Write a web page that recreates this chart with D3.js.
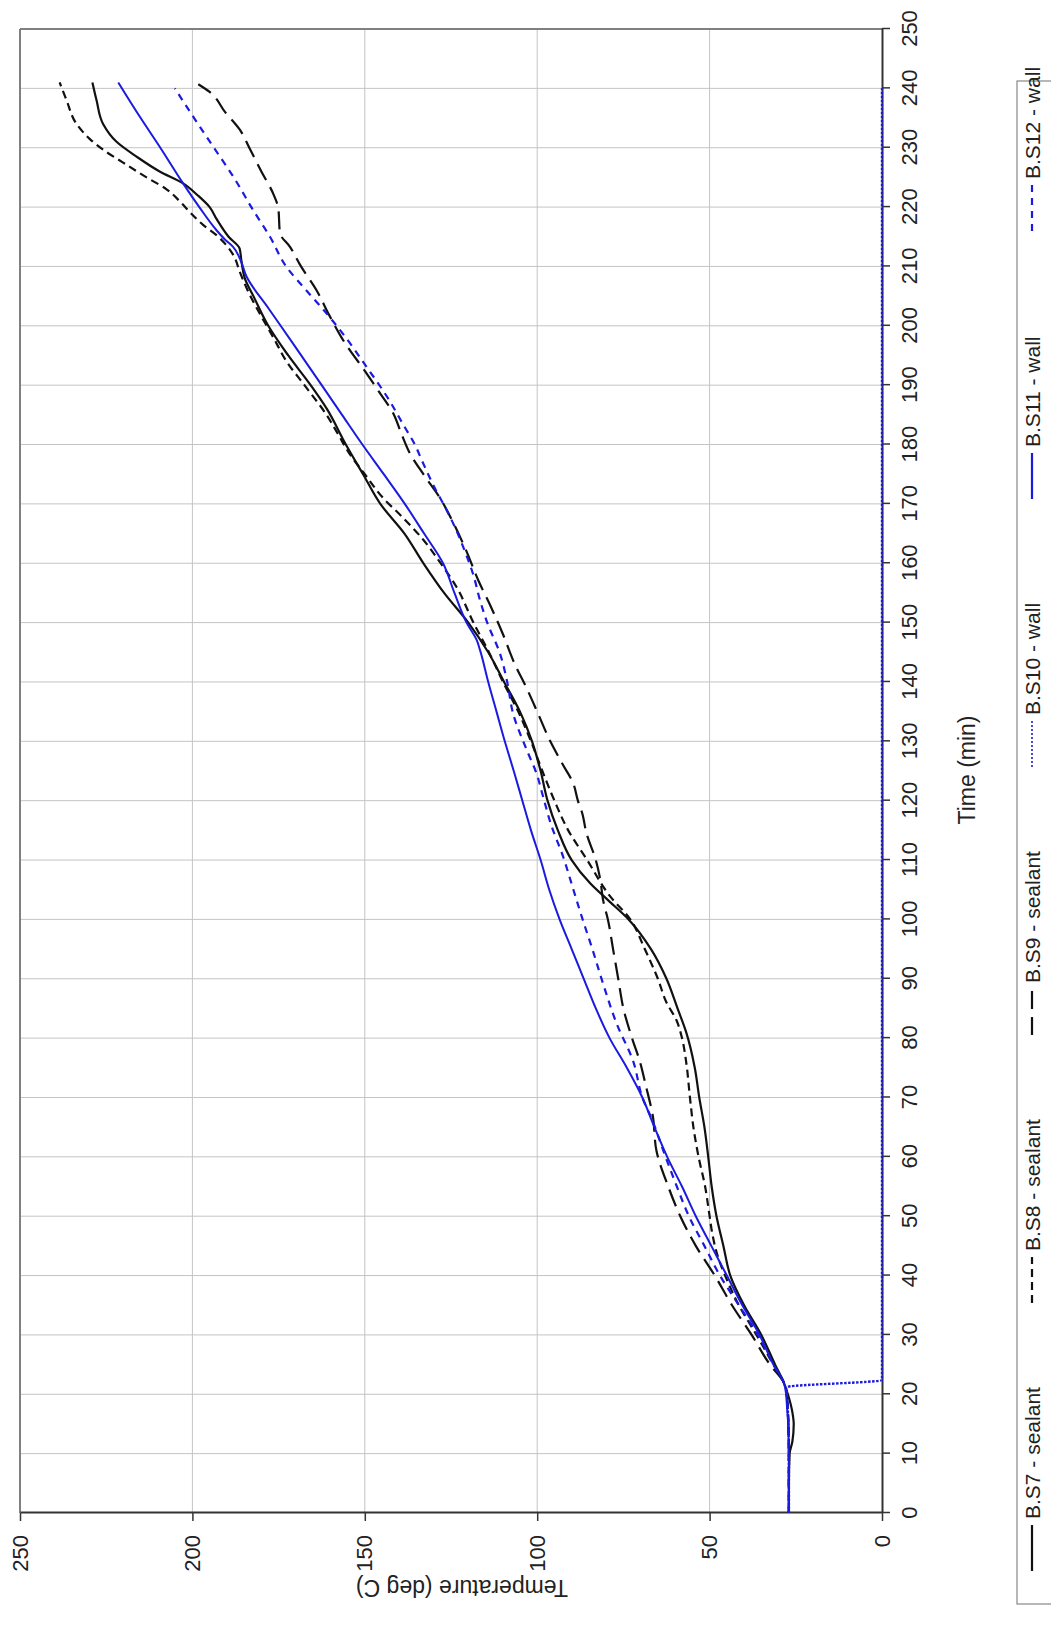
<!DOCTYPE html>
<html><head><meta charset="utf-8">
<script src="https://cdn.jsdelivr.net/npm/d3@7"></script>
<style>html,body{margin:0;padding:0;background:#fff;} svg{display:block;font-family:"Liberation Sans",Arial,sans-serif;}</style>
</head><body><svg id="c" width="1051" height="1636"></svg>
<script>
// ---------- data ----------
const timeTicks = d3.range(0, 251, 10);
const tempTicks = [0, 50, 100, 150, 200, 250];
const seriesNames = ["B.S7 - sealant", "B.S8 - sealant", "B.S9 - sealant", "B.S10 - wall", "B.S11 - wall", "B.S12 - wall"];

const s7Time = [0, 5, 10, 12, 15, 17, 20, 22, 25, 30, 35, 40, 45, 50, 55, 60, 65, 70, 75, 81, 85, 90, 95, 100, 103, 106, 110, 115, 120, 125, 130, 135, 140, 145, 150, 155, 160, 165, 170, 175, 180, 186, 190, 195, 200, 205, 208, 211, 213, 215, 218, 220, 222, 224, 226, 228.5, 231, 234, 238, 241];
const s7Temp = [27, 27, 26.8, 26, 25.6, 26, 27.3, 28.5, 31, 35, 40, 44, 46, 48, 49.4, 50.4, 51.5, 53, 54.3, 56.8, 59.3, 62.5, 67, 73.5, 79, 84.5, 90, 94, 97, 99, 101.5, 105, 109.6, 114.2, 120, 127, 133, 138.5, 145.5, 150.5, 155.5, 161, 165.7, 172.2, 178, 182.3, 184.8, 185.8, 186.3, 189.5, 193, 195, 198.5, 202.7, 209.5, 216.2, 222, 225.9, 227.8, 229];

const s8Time = [0, 10, 20, 22, 25, 30, 35, 40, 43, 47, 50, 55, 60, 65, 70, 76, 80, 83, 86, 90, 95, 100, 104, 110, 115, 120, 125, 130, 135, 140, 145, 150, 156, 160, 164, 168, 171, 175, 178.5, 182, 185, 190, 194, 198, 202, 206, 209, 212, 215, 217, 219, 221, 223, 225, 227.5, 229.5, 231.5, 234, 238, 241];
const s8Temp = [27, 27, 27.6, 28.5, 31.5, 36.4, 41.5, 45.5, 47.5, 49.2, 50, 51.3, 53.2, 54.7, 55.7, 56.8, 58, 59.6, 62.5, 65, 68.8, 73, 79, 85.5, 91, 95, 98.5, 101.8, 105.5, 109.9, 114, 118.5, 123.4, 128, 133.1, 139.5, 144.7, 150, 154.5, 158, 161.1, 167.5, 172.7, 176.5, 180.4, 184, 186.2, 188.2, 192.5, 196.9, 200.5, 203.7, 207.5, 213.3, 220.1, 225.5, 229.8, 233.6, 236.5, 238.5];

const s9Time = [0, 10, 20, 22, 25, 30, 35, 40, 45, 50, 55, 61, 67, 72, 76, 80, 85, 90, 95, 100, 103, 107, 110, 114.5, 118, 120, 123, 126, 130, 135, 139, 143, 148, 153, 157, 162, 167, 171, 175, 178.5, 182, 185.3, 189, 192, 197.6, 202, 206, 210, 213.3, 215.6, 219.8, 222.3, 226, 230, 233, 236, 239.4, 240.7];
const s9Temp = [27, 27, 27.6, 28.5, 32.5, 37.8, 43.5, 48.5, 54, 58.5, 62, 65.4, 66.5, 68.5, 70.2, 72.5, 75, 76.5, 78, 79.5, 80.8, 81.8, 83, 85.7, 87, 88.2, 89.6, 92.5, 96.2, 100, 103.1, 106.5, 109.9, 113.7, 117, 120.5, 124.5, 128.2, 133, 136.9, 139.5, 141.8, 146, 149.5, 156.3, 160.5, 164, 168.5, 171.7, 174.6, 175.1, 176.6, 180, 183.5, 186.2, 190.5, 195, 198.3];

const s10Time = [0, 10, 20, 21.2, 22.4, 240];
const s10Temp = [27, 27, 27.6, 27.8, 0, 0];

const s11Time = [0, 10, 20, 22, 25, 30, 35, 40, 45, 50, 55, 60, 65, 70, 75, 80, 85, 90, 95, 100, 105, 110, 115, 120, 125, 130, 135, 140, 145.4, 147, 150, 155, 160, 165, 170, 175, 180, 185, 190, 197, 203, 208.3, 211, 213.3, 214.5, 216.1, 220, 224, 230, 235, 241];
const s11Temp = [27, 27, 27.8, 28.5, 31.5, 35.5, 40.5, 45, 49.5, 54, 58, 62.3, 66, 69.5, 74, 79, 83, 86.5, 90, 93.5, 96.5, 99, 101.8, 104.3, 106.8, 109.4, 111.8, 114.2, 116.6, 117.5, 120.5, 124, 127.3, 132.8, 138.4, 144.5, 150.7, 156.6, 162.5, 170.8, 178, 184.3, 186, 188.2, 190.5, 193, 198, 202.7, 209.3, 215, 221.5];

const s12Time = [0, 10, 20, 22, 25, 30, 35, 40, 45, 50, 55, 61, 66, 70, 76, 82.5, 89, 95, 100.5, 105, 110.6, 116, 120.7, 124.6, 128.5, 134.7, 140, 144.8, 150, 153.8, 158, 162.8, 166, 169, 173, 177.4, 180, 183, 188, 193.1, 198, 202.1, 206, 209.9, 215, 219.5, 225, 230.2, 235, 240];
const s12Temp = [27, 27, 27.6, 28.5, 31.5, 36, 41.5, 47, 51.5, 56, 59.5, 63.4, 66.5, 69.5, 72.1, 77, 80.8, 84, 87.1, 89.5, 92.5, 96, 98.3, 100.2, 103, 107, 108.7, 110.8, 114.5, 116.6, 118.5, 121.5, 123.8, 126.3, 130, 133.5, 135.5, 138.5, 143.5, 149.5, 155.5, 161.1, 167, 172.7, 177.5, 182.4, 188, 194, 199.5, 205.1];

// ---------- layout (drawn in landscape frame, then rotated -90deg) ----------
const W = 1636, H = 1051;
const BLACK = "#111", BLUE = "#1a1ae0";
const styles = [
  {color: BLACK, dash: null, w: 2.2, lw: 2.2, ldash: null},
  {color: BLACK, dash: "8,5", w: 2.2, lw: 2.2, ldash: "8,5"},
  {color: BLACK, dash: "18,8", w: 2.2, lw: 2.2, ldash: "18,8"},
  {color: BLUE, dash: "2.5,1.5", w: 2.4, lw: 1.6, ldash: "2,2"},
  {color: BLUE, dash: null, w: 2, lw: 2.2, ldash: null},
  {color: BLUE, dash: "7,6", w: 2.2, lw: 2.2, ldash: "7,6"}
];
const seriesData = [
  d3.zip(s7Time, s7Temp), d3.zip(s8Time, s8Temp), d3.zip(s9Time, s9Temp),
  d3.zip(s10Time, s10Temp), d3.zip(s11Time, s11Temp), d3.zip(s12Time, s12Temp)
];

const x = d3.scaleLinear().domain([0, 250]).range([123, 1607]);
const y = d3.scaleLinear().domain([0, 250]).range([882, 20]);

const svg = d3.select("#c");
svg.append("rect").attr("width", 1051).attr("height", 1636).attr("fill", "#fff");
const g = svg.append("g").attr("transform", `translate(0,${W}) rotate(-90)`);

// grid
g.append("g").selectAll("line").data(timeTicks.filter(d => d > 0 && d < 250)).join("line")
  .attr("x1", d => x(d)).attr("x2", d => x(d)).attr("y1", y(0)).attr("y2", y(250))
  .attr("stroke", "#c4c4c4").attr("stroke-width", 1);
g.append("g").selectAll("line").data(tempTicks.filter(d => d > 0 && d < 250)).join("line")
  .attr("x1", x(0)).attr("x2", x(250)).attr("y1", d => y(d)).attr("y2", d => y(d))
  .attr("stroke", "#c4c4c4").attr("stroke-width", 1);

// frame (far sides)
g.append("line").attr("x1", x(0)).attr("x2", x(250)).attr("y1", y(250)).attr("y2", y(250))
  .attr("stroke", "#808080").attr("stroke-width", 2);
g.append("line").attr("x1", x(250)).attr("x2", x(250)).attr("y1", y(0)).attr("y2", y(250))
  .attr("stroke", "#808080").attr("stroke-width", 2);

// axes
const xAxis = g.append("g").attr("transform", `translate(0,${y(0)})`)
  .call(d3.axisBottom(x).tickValues(timeTicks).tickSize(8).tickSizeOuter(0).tickPadding(11));
const yAxis = g.append("g").attr("transform", `translate(${x(0)},0)`)
  .call(d3.axisLeft(y).tickValues(tempTicks).tickSize(8).tickSizeOuter(0).tickPadding(14));
[xAxis, yAxis].forEach(a => {
  a.select(".domain").attr("stroke", "#333").attr("stroke-width", 2);
  a.selectAll(".tick line").attr("stroke", "#333").attr("stroke-width", 1.5);
  a.selectAll(".tick text").attr("fill", "#222").style("font-size", "22px")
    .style("font-family", "'Liberation Sans', Arial, sans-serif");
});

// titles
g.append("text").attr("x", 866).attr("y", 975).attr("text-anchor", "middle")
  .attr("fill", "#222").style("font-size", "23px").text("Time (min)");
g.append("text").attr("transform", "translate(56,462) rotate(-90)").attr("text-anchor", "middle")
  .attr("fill", "#222").style("font-size", "23px").text("Temperature (deg C)");

// series
const line = d3.line().x(d => x(d[0])).y(d => y(d[1])).curve(d3.curveMonotoneX);
g.append("g").selectAll("path").data(seriesData).join("path")
  .attr("d", line).attr("fill", "none")
  .attr("stroke", (d, i) => styles[i].color)
  .attr("stroke-width", (d, i) => styles[i].w)
  .attr("stroke-dasharray", (d, i) => styles[i].dash)
  .attr("stroke-linejoin", "round");

// legend
const leg = g.append("g");
leg.append("rect").attr("x", 32).attr("y", 1017).attr("width", 1523).attr("height", 80)
  .attr("fill", "#fff").attr("stroke", "#888").attr("stroke-width", 1.2);
const items = leg.selectAll("g.item").data(seriesNames).join("g").attr("class", "item")
  .attr("transform", (d, i) => `translate(${65 + i * 268},1032)`);
items.append("line").attr("x1", 0).attr("x2", 46).attr("y1", 0).attr("y2", 0)
  .attr("stroke", (d, i) => styles[i].color)
  .attr("stroke-width", (d, i) => styles[i].lw)
  .attr("stroke-dasharray", (d, i) => styles[i].ldash);
items.append("text").attr("x", 52).attr("y", 7.5).attr("fill", "#222")
  .style("font-size", "21px").text(d => d);
</script></body></html>
